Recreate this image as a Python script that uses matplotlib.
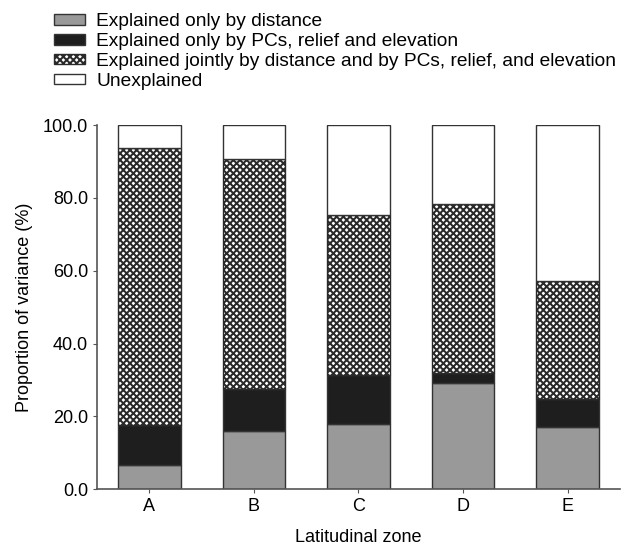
import matplotlib
matplotlib.use("Agg")
import matplotlib.pyplot as plt
import numpy as np

plt.rcParams["font.family"] = ["Liberation Sans", "DejaVu Sans"]
plt.rcParams["hatch.linewidth"] = 1.45

zones = ["A", "B", "C", "D", "E"]
# cumulative tops (%)
dist_only = [6.7, 16.1, 17.9, 29.1, 17.0]
pcs_top = [17.7, 27.4, 31.4, 31.8, 24.9]
joint_top = [93.6, 90.6, 75.3, 78.3, 57.3]

labels = ["Explained only by distance",
          "Explained only by PCs, relief and elevation",
          "Explained jointly by distance and by PCs, relief, and elevation",
          "Unexplained"]

dist = np.array(dist_only)
pcs = np.array(pcs_top) - dist
joint = np.array(joint_top) - np.array(pcs_top)
unexpl = 100 - np.array(joint_top)

fig = plt.figure(figsize=(6.28, 5.49), dpi=100)
ax = fig.add_axes([0.1545, 0.109, 0.8325, 0.663])

x = np.arange(len(zones))
w = 0.6
edge = "#333333"
b1 = ax.bar(x, dist, w, color="#999999", edgecolor=edge, lw=1)
b2 = ax.bar(x, pcs, w, bottom=dist, color="#1e1e1e", edgecolor=edge, lw=1)
b3 = ax.bar(x, joint, w, bottom=dist + pcs, color="white", edgecolor="#2a2a2a",
            hatch="xxxxx", lw=1)
b4 = ax.bar(x, unexpl, w, bottom=dist + pcs + joint, color="white", edgecolor=edge, lw=1)

ax.set_xlim(-0.5, 4.5)
ax.set_ylim(0, 100)
ax.set_yticks(np.arange(0, 101, 20))
ax.set_yticklabels([f"{v:.1f}" for v in np.arange(0, 101, 20)])
ax.set_xticks(x)
ax.set_xticklabels(zones)
ax.tick_params(labelsize=13, length=3, color="#555555")
for s in ("top", "right"):
    ax.spines[s].set_visible(False)
for s in ("left", "bottom"):
    ax.spines[s].set_color("#555555")
    ax.spines[s].set_linewidth(1.2)
ax.set_ylabel("Proportion of variance (%)", fontsize=13, labelpad=7)
ax.set_xlabel("Latitudinal zone", fontsize=13, labelpad=10)

fig.legend([b1, b2, b3, b4], labels, loc="upper left",
           bbox_to_anchor=(0.065, 1.0), frameon=False, fontsize=13.8,
           handlelength=1.6, handleheight=0.45, labelspacing=0.15,
           handletextpad=0.6, borderaxespad=0.3)

fig.savefig("out.png", dpi=100)
